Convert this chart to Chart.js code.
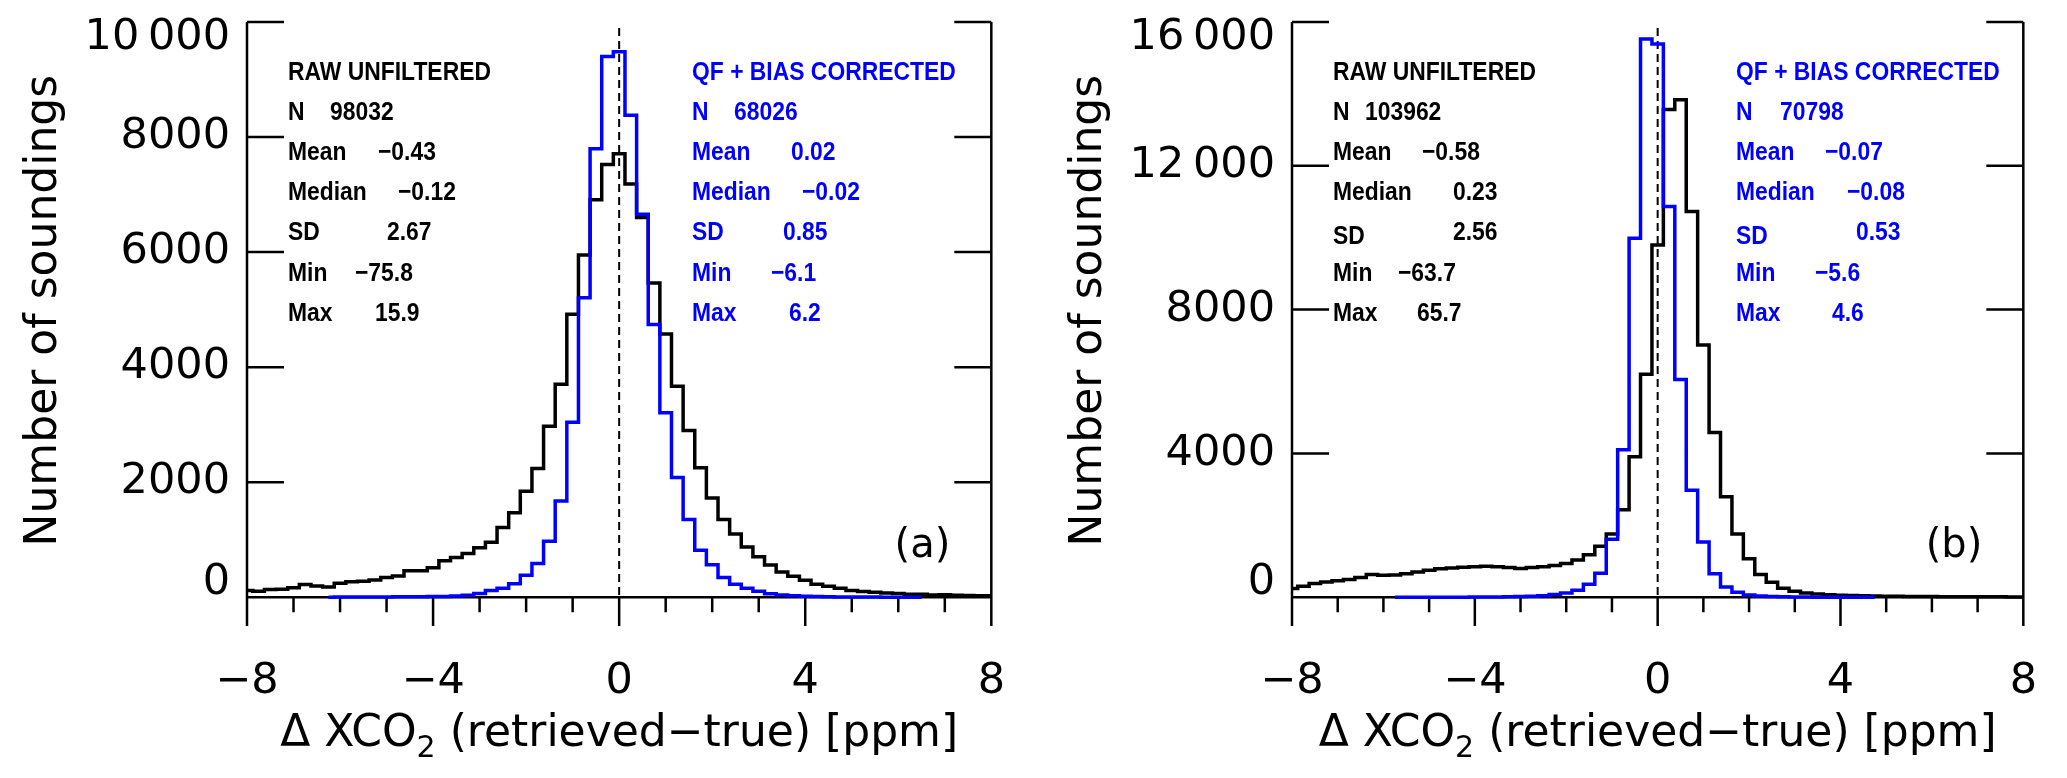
<!DOCTYPE html>
<html>
<head>
<meta charset="utf-8">
<script src="https://cdn.jsdelivr.net/npm/chart.js@4.4.1/dist/chart.umd.min.js"></script>
<style>
  html, body { margin: 0; padding: 0; background: #fff; }
  #wrap { position: relative; width: 2067px; height: 778px; background: #fff; }
  canvas { position: absolute; top: 0; }
  #panelA { left: 0; }
  #panelB { left: 1035px; }
</style>
</head>
<body>
<div id="wrap">
  <canvas id="panelA" width="1035" height="778"></canvas>
  <canvas id="panelB" width="1032" height="778"></canvas>
</div>
<script>
// histogram bins are 0.25 ppm wide, listed by bin centre starting at *Start
const BIN_WIDTH = 0.25;

// panel (a)
const rawStartA = -8;
const rawCountsA = [
  115, 105, 133, 140, 165, 220, 197, 180,
  245, 270, 276, 300, 345, 370, 460, 460,
  514, 633, 690, 760, 860, 958, 1214, 1467,
  1842, 2237, 2974, 3704, 4918, 5948, 6910, 7524,
  7708, 7183, 6603, 5464, 4577, 3670, 2899, 2251,
  1726, 1351, 1098, 873, 703, 560, 440, 365,
  296, 226, 190, 157, 116, 99, 87, 75,
  64, 52, 50, 40, 42, 35, 29, 28,
  25
];
const qfStartA = -6.25;
const qfCountsA = [
  0, 2, 3, 4, 5, 6, 7, 8,
  10, 12, 15, 22, 35, 64, 115, 157,
  235, 382, 587, 975, 1671, 3042, 5205, 7797,
  9400, 9482, 8377, 6657, 4741, 3206, 2080, 1351,
  819, 566, 341, 225, 157, 102, 60, 38,
  26, 18, 12, 8, 6, 4, 3, 2,
  1, 1, 0, 0
];
const yTicksA = [0, 2000, 4000, 6000, 8000, 10000];
const yTickLabelsA = ['0', '2000', '4000', '6000', '8000', '10\u2009000'];

// panel (b)
const rawStartB = -8;
const rawCountsB = [
  245, 306, 380, 426, 460, 491, 546, 633,
  611, 622, 650, 700, 752, 790, 810, 835,
  850, 862, 851, 829, 800, 829, 851, 884,
  939, 1037, 1179, 1419, 1757, 2434, 3907, 6199,
  9800, 13565, 13838, 10728, 7017, 4584, 2794, 1757,
  1070, 633, 415, 251, 164, 120, 90, 70,
  55, 45, 38, 32, 28, 25, 22, 20,
  18, 16, 15, 14, 13, 12, 11, 10,
  10
];
const qfStartB = -5.75;
const qfCountsB = [
  0, 1, 1, 2, 2, 3, 3, 5,
  7, 10, 14, 20, 30, 44, 76, 120,
  196, 360, 666, 1615, 4103, 9986, 15530, 15388,
  10870, 6057, 2979, 1539, 655, 284, 142, 65,
  33, 20, 12, 8, 5, 3, 2, 1,
  1, 0, 0
];
const yTicksB = [0, 4000, 8000, 12000, 16000];
const yTickLabelsB = ['0', '4000', '8000', '12\u2009000', '16\u2009000'];

// x axis
const xTicks = [-8, -4, 0, 4, 8];
const xMinorStep = 1;
const xMajorStep = 4;

// statistics boxes
const statLabels = ['N', 'Mean', 'Median', 'SD', 'Min', 'Max'];
const rawStatsA = ['98032', '\u22120.43', '\u22120.12', '2.67', '\u221275.8', '15.9'];
const qfStatsA = ['68026', '0.02', '\u22120.02', '0.85', '\u22126.1', '6.2'];
const rawStatsB = ['103962', '\u22120.58', '0.23', '2.56', '\u221263.7', '65.7'];
const qfStatsB = ['70798', '\u22120.07', '\u22120.08', '0.53', '\u22125.6', '4.6'];

const BLACK = '#000000';
const BLUE = '#0000ff';

function toPoints(start, counts) {
  return counts.map((c, i) => ({ x: start + i * BIN_WIDTH, y: c }));
}

function fmtX(v) {
  return v < 0 ? '\u2212' + Math.abs(v) : String(v);
}

// draws text squeezed horizontally, the plot font is narrower than Liberation
function squeezeText(ctx, text, x, y, sx) {
  ctx.save();
  ctx.translate(x, y);
  ctx.scale(sx, 1);
  ctx.fillText(text, 0, 0);
  ctx.restore();
}

/**
 * Axis box in the IDL style: no top line, zero line with ticks hanging down
 */
const idlFrame = {
  id: 'idlFrame',
  beforeDatasetsDraw(chart, args, opts) {
    const { ctx, chartArea: a, scales: { x, y } } = chart;
    const y0 = y.getPixelForValue(0);
    ctx.save();
    ctx.strokeStyle = BLACK;
    ctx.lineWidth = 2.5;
    ctx.lineCap = 'butt';
    ctx.beginPath();
    ctx.moveTo(a.left, a.top);
    ctx.lineTo(a.left, a.bottom);
    ctx.moveTo(a.right, a.top);
    ctx.lineTo(a.right, a.bottom);
    ctx.moveTo(a.left, y0);
    ctx.lineTo(a.right, y0);
    for (let v = x.min; v <= x.max; v += xMinorStep) {
      const px = x.getPixelForValue(v);
      ctx.moveTo(px, y0);
      ctx.lineTo(px, v % xMajorStep === 0 ? a.bottom : y0 + 15);
    }
    opts.yTicks.forEach((v) => {
      if (v === 0) return;
      const py = y.getPixelForValue(v);
      ctx.moveTo(a.left, py);
      ctx.lineTo(a.left + 37, py);
      ctx.moveTo(a.right - 37, py);
      ctx.lineTo(a.right, py);
    });
    ctx.stroke();

    // dashed line at zero difference
    const xz = x.getPixelForValue(0);
    ctx.setLineDash([8, 5]);
    ctx.lineWidth = 2;
    ctx.beginPath();
    ctx.moveTo(xz, a.top + 6);
    ctx.lineTo(xz, y0);
    ctx.stroke();
    ctx.restore();
  },

  afterDraw(chart, args, opts) {
    const { ctx, chartArea: a, scales: { y } } = chart;
    const y0 = y.getPixelForValue(0);

    // y axis title
    ctx.save();
    ctx.fillStyle = BLACK;
    ctx.font = '44px "DejaVu Sans"';
    ctx.textAlign = 'center';
    ctx.textBaseline = 'alphabetic';
    ctx.translate(a.left - 191, (a.top + y0) / 2 + 1);
    ctx.rotate(-Math.PI / 2);
    ctx.fillText('Number of soundings', 0, 0);
    ctx.restore();

    // x axis title with subscript 2
    ctx.save();
    ctx.fillStyle = BLACK;
    ctx.textBaseline = 'alphabetic';
    ctx.textAlign = 'left';
    const parts = [
      { t: '\u0394 XCO', font: '44px "DejaVu Sans"', dy: 0 },
      { t: '2', font: '30px "DejaVu Sans"', dy: 11 },
      { t: ' (retrieved\u2212true) [ppm]', font: '44px "DejaVu Sans"', dy: 0 }
    ];
    let total = 0;
    parts.forEach((p) => {
      ctx.font = p.font;
      p.w = ctx.measureText(p.t).width;
      total += p.w;
    });
    let cx = (a.left + a.right) / 2 - total / 2;
    parts.forEach((p) => {
      ctx.font = p.font;
      ctx.fillText(p.t, cx, 746 + p.dy);
      cx += p.w;
    });
    ctx.restore();

    // statistics text
    ctx.save();
    ctx.textBaseline = 'alphabetic';
    ctx.textAlign = 'left';
    ctx.font = 'bold 26px "Liberation Sans"';
    const rowY = (i) => a.top + 48 + i * 40.2 + 9.5;
    opts.boxes.forEach((box) => {
      ctx.fillStyle = box.color;
      squeezeText(ctx, box.title, a.left + box.labelX, rowY(0), 0.88);
      statLabels.forEach((lab, i) => {
        const dy = box.labelDy ? box.labelDy[i] : 0;
        squeezeText(ctx, lab, a.left + box.labelX, rowY(i + 1) + dy, 0.88);
        squeezeText(ctx, box.values[i], a.left + box.valueX[i], rowY(i + 1), 0.88);
      });
    });
    ctx.restore();

    // panel tag
    ctx.save();
    ctx.fillStyle = BLACK;
    ctx.font = '40px "DejaVu Sans"';
    ctx.textAlign = 'right';
    ctx.textBaseline = 'middle';
    ctx.fillText(opts.tag, a.right - 41, y0 - 51);
    ctx.restore();
  }
};

function makePanel(canvasId, cfg) {
  const yMax = cfg.yTicks[cfg.yTicks.length - 1];
  return new Chart(document.getElementById(canvasId), {
    type: 'line',
    data: {
      datasets: [
        {
          label: 'QF + bias corrected',
          data: toPoints(cfg.qfStart, cfg.qfCounts),
          borderColor: BLUE,
          borderWidth: 3.5,
          stepped: 'middle',
          pointRadius: 0,
          fill: false,
          borderJoinStyle: 'miter'
        },
        {
          label: 'Raw unfiltered',
          data: toPoints(cfg.rawStart, cfg.rawCounts),
          borderColor: BLACK,
          borderWidth: 3.5,
          stepped: 'middle',
          pointRadius: 0,
          fill: false,
          borderJoinStyle: 'miter'
        }
      ]
    },
    options: {
      responsive: false,
      devicePixelRatio: 1,
      animation: false,
      events: [],
      layout: { padding: { left: 0, right: cfg.rightPad, top: 22, bottom: 0 } },
      plugins: {
        legend: { display: false },
        tooltip: { enabled: false },
        idlFrame: { yTicks: cfg.yTicks, tag: cfg.tag, boxes: cfg.boxes }
      },
      scales: {
        x: {
          type: 'linear',
          min: -8,
          max: 8,
          afterBuildTicks: (s) => { s.ticks = xTicks.map((v) => ({ value: v })); },
          afterFit: (s) => { s.height = 152; },
          grid: { display: false, drawTicks: false },
          border: { display: false },
          ticks: {
            padding: 30,
            color: BLACK,
            autoSkip: false,
            maxRotation: 0,
            font: { family: 'DejaVu Sans', size: 43 },
            callback: (v) => fmtX(v)
          }
        },
        y: {
          type: 'linear',
          min: cfg.yMin,
          max: yMax,
          afterBuildTicks: (s) => { s.ticks = cfg.yTicks.map((v) => ({ value: v })); },
          afterFit: (s) => {
            s.width = cfg.yAxisWidth;
            s.paddingTop = 0;
            s.paddingBottom = 0;
          },
          grid: { display: false, drawTicks: false },
          border: { display: false },
          ticks: {
            padding: 17,
            color: BLACK,
            autoSkip: false,
            font: (c) => {
              const v = c.tick ? c.tick.value : null;
              let lh = 1;
              if (v === 0) lh = 0.65;
              if (v === yMax) lh = 0.75;
              return { family: 'DejaVu Sans', size: 43, lineHeight: lh };
            },
            callback: (v) => {
              const label = cfg.yTickLabels[cfg.yTicks.indexOf(v)];
              // zero label sits a little above its tick, top label a little below
              if (v === 0) return [label, ''];
              if (v === yMax) return ['', label];
              return label;
            }
          }
        }
      }
    },
    plugins: [idlFrame]
  });
}

makePanel('panelA', {
  rawStart: rawStartA,
  rawCounts: rawCountsA,
  qfStart: qfStartA,
  qfCounts: qfCountsA,
  yTicks: yTicksA,
  yTickLabels: yTickLabelsA,
  yMin: -500,
  yAxisWidth: 247,
  rightPad: 43,
  tag: '(a)',
  boxes: [
    { title: 'RAW UNFILTERED', color: BLACK, values: rawStatsA, labelX: 41,
      valueX: [83, 131, 151, 140, 108, 128] },
    { title: 'QF + BIAS CORRECTED', color: BLUE, values: qfStatsA, labelX: 445,
      valueX: [487, 544, 555, 536, 524, 542] }
  ]
});

makePanel('panelB', {
  rawStart: rawStartB,
  rawCounts: rawCountsB,
  qfStart: qfStartB,
  qfCounts: qfCountsB,
  yTicks: yTicksB,
  yTickLabels: yTickLabelsB,
  yMin: -800,
  yAxisWidth: 257,
  rightPad: 32,
  tag: '(b)',
  boxes: [
    { title: 'RAW UNFILTERED', color: BLACK, values: rawStatsB, labelX: 41,
      valueX: [73, 130, 161, 161, 106, 125], labelDy: [0, 0, 0, 4, 0, 0] },
    { title: 'QF + BIAS CORRECTED', color: BLUE, values: qfStatsB, labelX: 444,
      valueX: [488, 533, 555, 564, 523, 540], labelDy: [0, 0, 0, 4, 0, 0] }
  ]
});
</script>
</body>
</html>
